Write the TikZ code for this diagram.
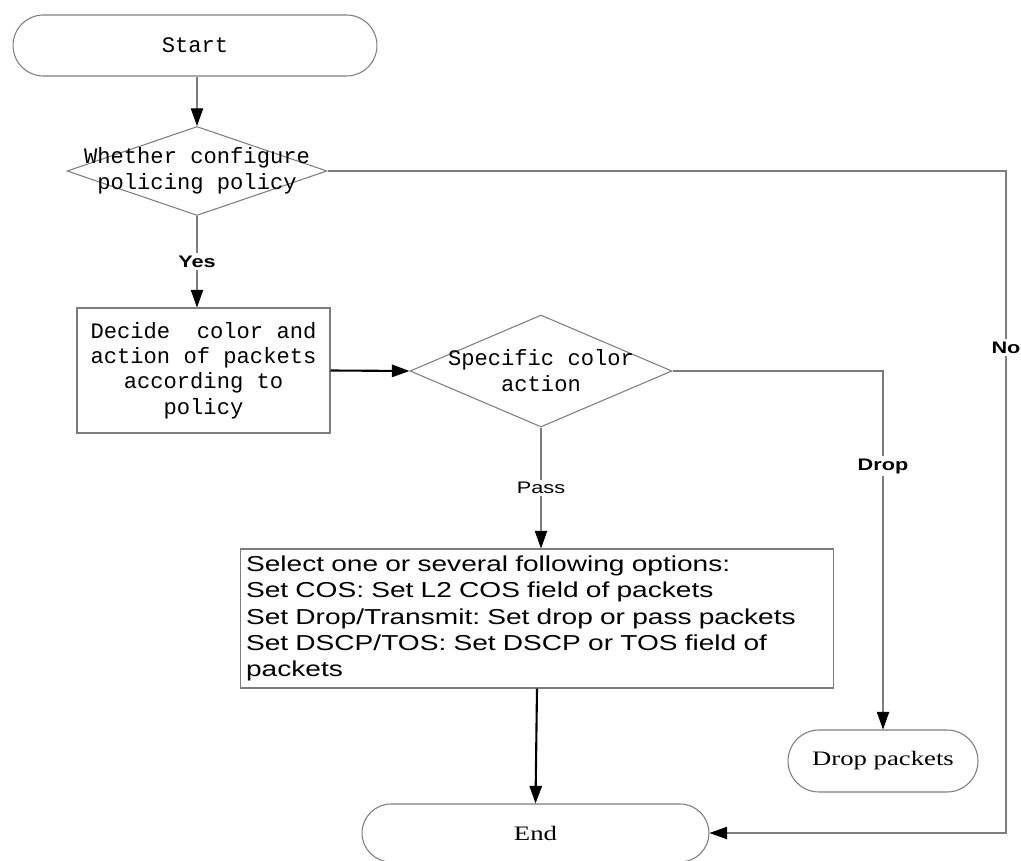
\documentclass[tikz,border=0pt]{standalone}
\usepackage{fontspec}
\usepackage{tikz}
\usetikzlibrary{arrows.meta, shapes.geometric, shapes.misc}

\newfontfamily\codefont{Liberation Mono}
\newfontfamily\boxfont{Liberation Sans}[FakeStretch=1.3]
\newfontfamily\termfont{Liberation Serif}[FakeStretch=1.3]
\definecolor{edgegray}{RGB}{125,125,125}

\begin{document}
\begin{tikzpicture}[x=0.02cm, y=-0.02cm,
  terminal/.style={draw=edgegray, line width=0.6pt, rounded rectangle, inner sep=0pt,
    font=\termfont\fontsize{11.7}{13}\selectfont},
  decision/.style={draw=edgegray, line width=0.6pt, diamond, inner sep=0pt},
  dectext/.style={align=center, inner sep=0pt, font=\codefont\fontsize{12.6}{14.8}\selectfont},
  process/.style={draw=edgegray, line width=0.6pt, rectangle, inner sep=0pt, align=center,
    font=\codefont\fontsize{12.6}{14.5}\selectfont},
  flow/.style={edgegray, line width=0.6pt, -{Triangle[length=10pt, width=7pt, color=black]}},
  mainflow/.style={black, line width=1.2pt, -{Triangle[length=10pt, width=7pt]}},
  branch/.style={fill=white, text=black, inner sep=1.5pt,
    font=\boxfont\bfseries\fontsize{9.5}{11}\selectfont}]
  % page
  \fill[white] (0,0) rectangle (1021,861);
  \useasboundingbox (0,0) rectangle (1021,861);
  % shapes
  \node[terminal, minimum width=7.28cm, minimum height=1.22cm,
    font=\codefont\fontsize{12.6}{14.8}\selectfont] (start) at (195,45.5) {Start};
  \node[decision, minimum width=5.2cm, minimum height=1.78cm,
    label={[dectext]center:{Whether configure\\policing policy}}] (dec1) at (197,171) {};
  \node[process, minimum width=5.06cm, minimum height=2.5cm] (box1) at (203.5,370.5)
    {Decide~~color and\\action of packets\\according to\\policy};
  \node[decision, minimum width=5.24cm, minimum height=2.24cm,
    label={[dectext]center:{Specific color\\action}}] (dec2) at (541,371) {};
  \node[process, align=left, text width=11.64cm, minimum width=11.88cm, minimum height=2.78cm,
    font=\boxfont\frenchspacing\fontsize{12.3}{14.9}\selectfont] (opts) at (537,618.5)
    {Select one or several following options:\\
     Set COS: Set L2 COS field of packets\\
     Set Drop/Transmit: Set drop or pass packets\\
     Set DSCP/TOS: Set DSCP or TOS field of\\
     packets};
  \node[terminal, minimum width=3.8cm, minimum height=1.24cm] (drop) at (883,761) {Drop packets};
  \node[terminal, minimum width=6.94cm, minimum height=1.16cm] (end) at (535.5,833) {End};
  \coordinate (rail) at (1006,0);
  % connectors
  \draw[flow] (dec1.north |- start.south) -- (dec1.north);
  \draw[flow] (dec1.south) -- node[branch] (yes) {Yes} (dec1.south |- box1.north);
  \draw[mainflow] (box1.east) -- (dec2.west);
  \draw[flow] (dec2.south) -- node[branch, font=\boxfont\fontsize{9.5}{11}\selectfont] (pass) {Pass}
    (dec2.south |- opts.north);
  \draw[flow] (dec2.east) -- (dec2.east -| drop.north)
    -- node[branch, pos=0.265] (droplbl) {Drop} (drop.north);
  \draw[mainflow] (opts.south) -- (end.north);
  \draw[flow] (dec1.east) -- (dec1.east -| rail)
    -- node[branch, pos=0.267] (no) {No} (end.east -| rail) -- (end.east);
\end{tikzpicture}
\end{document}
